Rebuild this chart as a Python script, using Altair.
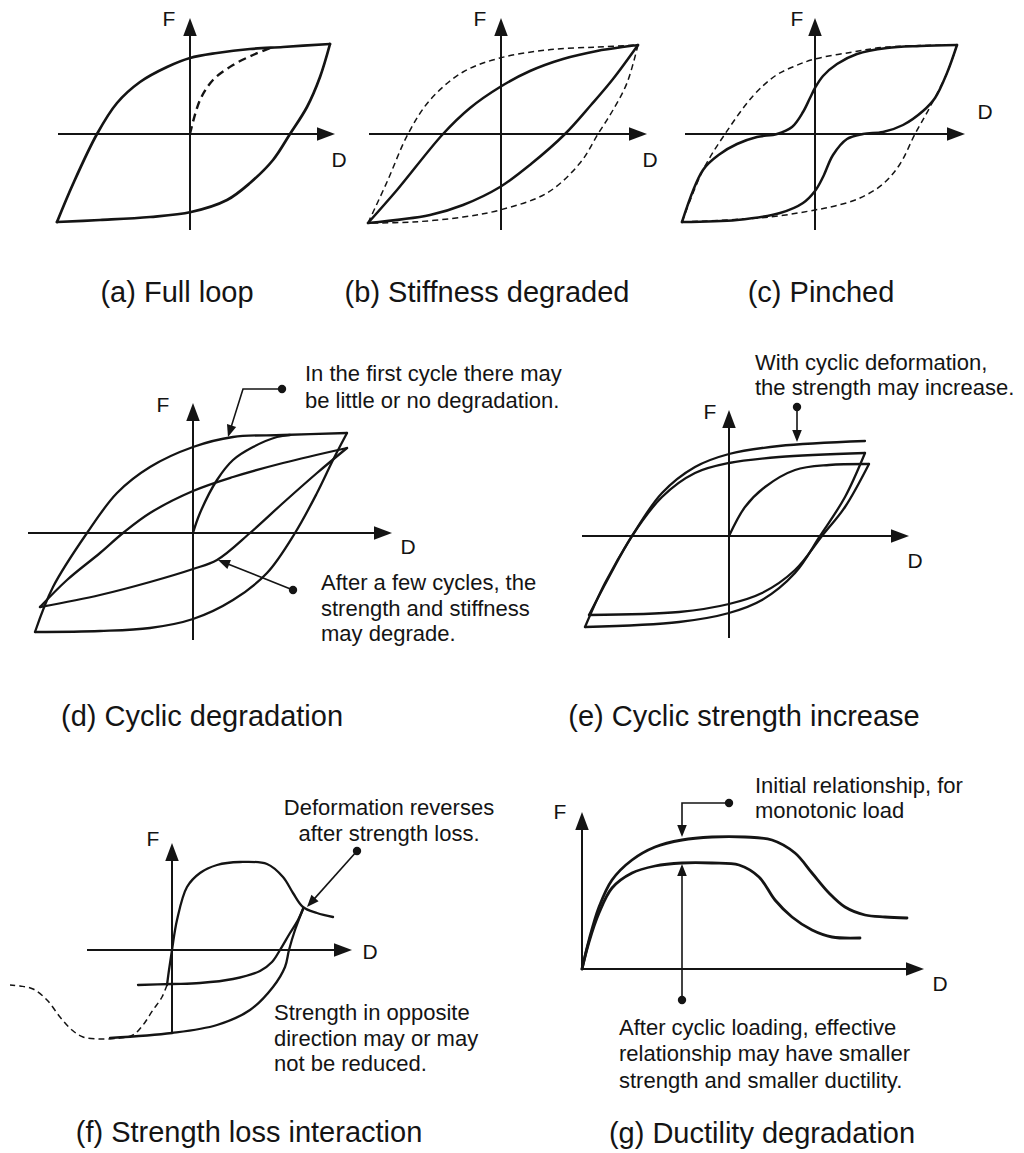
import math

import altair as alt
import pandas as pd

FONT = "Liberation Sans"
INK = "#141414"
AXIS_HEAD = "M0,-1L0.75,1L-0.75,1Z"
NOTE_HEAD = "M0,-1L0.8,1L-0.8,1Z"

# ---------------- (a) Full loop ----------------
A_UP_D = [-133, -117, -93, -73, -50, -23, 0, 27, 60, 93, 140]
A_UP_F = [-88, -50, 0, 31, 52, 67, 76, 81, 85, 87, 90]
A_DN_D = [140, 130, 117, 100, 83, 60, 37, 1, -40, -90, -133]
A_DN_F = [90, 57, 27, 0, -26, -49, -66, -78, -83, -86, -88]
A_INIT_D = [0, 10, 23, 43, 63, 80]
A_INIT_F = [0, 34, 54, 69, 79, 86]

# ---------------- (b) Stiffness degraded ----------------
B_UP_D = [-133, -104, -58, -31, -1, 29, 62, 96, 137]
B_UP_F = [-89, -56, 0, 26, 47, 63, 75, 83, 89]
B_DN_D = [137, 112, 90, 64, 30, -1, -38, -71, -133]
B_DN_F = [89, 55, 29, 0, -30, -53, -71, -81, -89]
B_OUT_UP_D = [-133, -114, -93, -71, -38, -1, 46, 96, 137]
B_OUT_UP_F = [-89, -48, 0, 34, 62, 76, 84, 87, 89]
B_OUT_DN_D = [137, 126, 112, 97, 79, 46, -1, -38, -88, -133]
B_OUT_DN_F = [89, 51, 24, 0, -29, -59, -76, -83, -88, -89]

# ---------------- (c) Pinched ----------------
C_OUT_UP_D = [-133, -112, -90, -62, -40, -20, 0, 38, 72, 142]
C_OUT_UP_F = [-88, -36, 0, 38, 58, 68, 75, 82, 87, 89]
C_OUT_DN_D = [142, 132, 115, 100, 85, 68, 45, 20, 0, -45, -133]
C_OUT_DN_F = [89, 61, 27, 0, -30, -50, -64, -72, -76, -83, -88]
C_UP_D = [-133, -112, -95, -78, -58, -38, -23, -12, -5, 0, 8, 22, 42, 72, 105, 142]
C_UP_F = [-88, -36, -20, -10, -3, 0, 7, 22, 36, 46, 58, 70, 80, 86, 88, 89]
C_DN_D = [142, 132, 120, 108, 88, 68, 48, 32, 18, 8, 0, -12, -35, -78, -133]
C_DN_F = [89, 61, 36, 23, 9, 2, 0, -5, -21, -43, -57, -69, -79, -86, -88]

# ---------------- (d) Cyclic degradation ----------------
D_OUT_UP_D = [-158, -140, -106, -76, -43, 0, 40, 90, 154]
D_OUT_UP_F = [-99, -54, 0, 40, 66, 86, 96, 98, 100]
D_OUT_DN_D = [154, 140, 124, 102, 74, 40, 0, -43, -93, -158]
D_OUT_DN_F = [100, 73, 40, 0, -40, -67, -86, -95, -98, -99]
D_INIT_D = [0, 7, 24, 40, 60, 84, 97]
D_INIT_F = [0, 20, 53, 73, 86, 96, 98]
D_IN_UP_D = [-153, -126, -93, -70, -43, 0, 40, 90, 154]
D_IN_UP_F = [-74, -47, -20, 0, 20, 42, 56, 70, 85]
D_IN_DN_D = [154, 124, 90, 57, 24, 0, -43, -93, -153]
D_IN_DN_F = [85, 60, 30, 0, -27, -36, -49, -62, -74]

# ---------------- (e) Cyclic strength increase ----------------
E_INIT_D = [0, 16, 36, 66, 100, 140]
E_INIT_F = [0, 29, 49, 66, 71, 72]
E_DN1_D = [140, 116, 93, 66, 33, 0, -50, -140]
E_DN1_F = [72, 29, 0, -34, -57, -68, -76, -79]
E_UP2_D = [-140, -120, -97, -67, -34, 0, 50, 136]
E_UP2_F = [-79, -41, 0, 39, 63, 73, 79, 83]
E_DN2_D = [136, 116, 91, 66, 33, 0, -50, -144]
E_DN2_F = [83, 39, 0, -37, -64, -77, -86, -91]
E_UP3_D = [-144, -124, -97, -67, -34, 0, 50, 136]
E_UP3_F = [-91, -47, 0, 43, 69, 82, 90, 95]

# ---------------- (f) Strength loss interaction ----------------
F_INIT_D = [-5, -3, 0, 5, 15, 28, 45, 68, 95, 111, 121, 131, 145, 161]
F_INIT_F = [-35, -20, 0, 30, 63, 77, 85, 88, 86, 73, 57, 43, 37, 33]
F_NEG_D = [-5, -10, -19, -29, -39, -52, -72, -89, -100, -112, -125, -139, -152, -162]
F_NEG_F = [-35, -47, -60, -75, -85, -88, -89, -87, -80, -67, -50, -39, -36, -35]
F_UNLOAD_D = [131, 126, 118, 108, 100, 88, 61, 28, 0, -34]
F_UNLOAD_F = [41, 30, 17, 0, -12, -21, -29, -33, -34, -35]
F_RELOAD_D = [-62, 0, 45, 78, 101, 113, 117, 123, 131]
F_RELOAD_F = [-88, -83, -75, -60, -37, -17, 0, 20, 41]

# ---------------- (g) Ductility degradation ----------------
G_MONO_D = [0, 7, 17, 30, 50, 73, 100, 130, 163, 190, 213, 230, 247, 263, 283, 303, 325]
G_MONO_F = [0, 29, 62, 89, 109, 122, 129, 132, 132, 129, 116, 96, 76, 62, 54, 52, 51]
G_CYC_D = [0, 7, 17, 30, 50, 73, 100, 130, 157, 177, 193, 210, 230, 250, 278]
G_CYC_F = [0, 27, 56, 81, 96, 103, 106, 106, 104, 92, 69, 52, 39, 32, 31]

TITLES = ["(a) Full loop", "(b) Stiffness degraded", "(c) Pinched",
          "(d) Cyclic degradation", "(e) Cyclic strength increase",
          "(f) Strength loss interaction", "(g) Ductility degradation"]

NOTE_D = ["In the first cycle there may", "be little or no degradation."]
NOTE_D2 = ["After a few cycles, the", "strength and stiffness", "may degrade."]
NOTE_E = ["With cyclic deformation,", "the strength may increase."]
NOTE_F = ["Deformation reverses", "after strength loss."]
NOTE_F2 = ["Strength in opposite", "direction may or may", "not be reduced."]
NOTE_G = ["Initial relationship, for", "monotonic load"]
NOTE_G2 = ["After cyclic loading, effective", "relationship may have smaller",
           "strength and smaller ductility."]


def curve_frame(curves):
    rows = []
    for name, ds, fs in curves:
        for i, (d, f) in enumerate(zip(ds, fs)):
            rows.append({"curve": name, "i": i, "D": d, "F": f})
    return pd.DataFrame(rows)


def arrow_frames(paths, head_len):
    """Polylines ending in an arrowhead: trimmed line points + head placement."""
    lines, heads = [], []
    for k, pts in enumerate(paths):
        (d0, f0), (d1, f1) = pts[-2], pts[-1]
        dd, ff = d1 - d0, f1 - f0
        n = math.hypot(dd, ff)
        ud, uf = dd / n, ff / n
        trimmed = list(pts[:-1]) + [(d1 - ud * head_len * 0.6, f1 - uf * head_len * 0.6)]
        for i, (d, f) in enumerate(trimmed):
            lines.append({"path": k, "i": i, "D": d, "F": f})
        heads.append({"D": d1 - ud * head_len / 2, "F": f1 - uf * head_len / 2,
                      "ang": math.degrees(math.atan2(ud, uf)) % 360})
    return pd.DataFrame(lines), pd.DataFrame(heads)


def text_frame(items):
    return pd.DataFrame([{"D": d, "F": f, "txt": t} for d, f, t in items])


def panel(box, solid, dashed, axes, labels, title, leaders=(), notes=(),
          center_notes=(), solid_w=2.5, dash_w=1.5, dash=(6, 4)):
    W, H, ox, oy = box
    sx = alt.Scale(domain=[-ox, W - ox], nice=False, zero=False)
    sy = alt.Scale(domain=[oy - H, oy], nice=False, zero=False)
    x = alt.X("D:Q", scale=sx, axis=None)
    y = alt.Y("F:Q", scale=sy, axis=None)
    layers = []

    ax_lines, ax_heads = arrow_frames(axes, 18)
    layers.append(alt.Chart(ax_lines).mark_line(color=INK, strokeWidth=2).encode(
        x=x, y=y, detail="path:N", order="i:Q"))
    layers.append(alt.Chart(ax_heads).mark_point(
        shape=AXIS_HEAD, size=324, filled=True, color=INK, opacity=1, strokeWidth=0
    ).encode(x=x, y=y, angle=alt.Angle("ang:Q", scale=None)))

    if dashed:
        layers.append(alt.Chart(curve_frame(dashed)).mark_line(
            color=INK, strokeWidth=dash_w, strokeDash=list(dash),
            interpolate="catmull-rom", strokeJoin="round"
        ).encode(x=x, y=y, detail="curve:N", order="i:Q"))
    layers.append(alt.Chart(curve_frame(solid)).mark_line(
        color=INK, strokeWidth=solid_w, interpolate="catmull-rom",
        strokeJoin="round", strokeCap="round"
    ).encode(x=x, y=y, detail="curve:N", order="i:Q"))

    if leaders:
        ld_lines, ld_heads = arrow_frames(leaders, 12)
        dots = pd.DataFrame([{"D": p[0][0], "F": p[0][1]} for p in leaders])
        layers.append(alt.Chart(ld_lines).mark_line(color=INK, strokeWidth=1.6).encode(
            x=x, y=y, detail="path:N", order="i:Q"))
        layers.append(alt.Chart(ld_heads).mark_point(
            shape=NOTE_HEAD, size=144, filled=True, color=INK, opacity=1, strokeWidth=0
        ).encode(x=x, y=y, angle=alt.Angle("ang:Q", scale=None)))
        layers.append(alt.Chart(dots).mark_circle(size=70, color=INK, opacity=1).encode(x=x, y=y))

    if notes:
        layers.append(alt.Chart(text_frame(notes)).mark_text(
            font=FONT, fontSize=22, align="left", baseline="alphabetic", color=INK
        ).encode(x=x, y=y, text="txt:N"))
    if center_notes:
        layers.append(alt.Chart(text_frame(center_notes)).mark_text(
            font=FONT, fontSize=22, align="center", baseline="alphabetic", color=INK
        ).encode(x=x, y=y, text="txt:N"))

    layers.append(alt.Chart(text_frame(labels)).mark_text(
        font=FONT, fontSize=21, align="center", baseline="middle", color=INK
    ).encode(x=x, y=y, text="txt:N"))
    layers.append(alt.Chart(text_frame([title])).mark_text(
        font=FONT, fontSize=29, align="center", baseline="alphabetic", color=INK
    ).encode(x=x, y=y, text="txt:N"))

    return alt.layer(*layers).properties(width=W, height=H)


def lines_at(d, fs, texts):
    return [(d, f, t) for f, t in zip(fs, texts)]


pa = panel(
    (341, 320, 190, 134),
    solid=[("up", A_UP_D, A_UP_F), ("down", A_DN_D, A_DN_F)],
    dashed=[("init", A_INIT_D, A_INIT_F)],
    axes=[[(0, -96), (0, 116)], [(-132, 0), (145, 0)]],
    labels=[(-21, 114, "F"), (149, -27, "D")],
    title=(-13, -168, TITLES[0]),
    solid_w=2.7, dash_w=2.4, dash=(8, 5),
)

pb = panel(
    (341, 320, 160, 134),
    solid=[("up", B_UP_D, B_UP_F), ("down", B_DN_D, B_DN_F)],
    dashed=[("oup", B_OUT_UP_D, B_OUT_UP_F), ("odown", B_OUT_DN_D, B_OUT_DN_F)],
    axes=[[(0, -96), (0, 116)], [(-132, 0), (146, 0)]],
    labels=[(-21, 114, "F"), (149, -27, "D")],
    title=(-14, -168, TITLES[1]),
)

pc = panel(
    (342, 320, 133, 134),
    solid=[("up", C_UP_D, C_UP_F), ("down", C_DN_D, C_DN_F)],
    dashed=[("oup", C_OUT_UP_D, C_OUT_UP_F), ("odown", C_OUT_DN_D, C_OUT_DN_F)],
    axes=[[(0, -96), (0, 116)], [(-130, 0), (150, 0)]],
    labels=[(-18, 114, "F"), (170, 21, "D")],
    title=(6, -168, TITLES[2]),
)

pd_ = panel(
    (512, 420, 193, 213),
    solid=[("oup", D_OUT_UP_D, D_OUT_UP_F), ("odown", D_OUT_DN_D, D_OUT_DN_F),
           ("init", D_INIT_D, D_INIT_F), ("iup", D_IN_UP_D, D_IN_UP_F),
           ("idown", D_IN_DN_D, D_IN_DN_F)],
    dashed=[],
    axes=[[(0, -107), (0, 130)], [(-165, 0), (199, 0)]],
    labels=[(-30, 127, "F"), (215, -15, "D")],
    title=(9, -193, TITLES[3]),
    leaders=[[(89, 144), (50, 144), (35, 96)], [(100, -57), (25, -27)]],
    notes=lines_at(112, [152, 125], NOTE_D) + lines_at(128, [-57, -83, -108], NOTE_D2),
    solid_w=2.3,
)

pe = panel(
    (512, 420, 217, 216),
    solid=[("init", E_INIT_D, E_INIT_F), ("d1", E_DN1_D, E_DN1_F),
           ("u2", E_UP2_D, E_UP2_F), ("d2", E_DN2_D, E_DN2_F),
           ("u3", E_UP3_D, E_UP3_F)],
    dashed=[],
    axes=[[(0, -102), (0, 126)], [(-147, 0), (180, 0)]],
    labels=[(-19, 123, "F"), (186, -26, "D")],
    title=(15, -190, TITLES[4]),
    leaders=[[(68, 129), (68, 94)]],
    notes=lines_at(26, [166, 141], NOTE_E),
    solid_w=2.3,
)

pf = panel(
    (512, 413, 172, 210),
    solid=[("init", F_INIT_D, F_INIT_F), ("unload", F_UNLOAD_D, F_UNLOAD_F),
           ("reload", F_RELOAD_D, F_RELOAD_F)],
    dashed=[("neg", F_NEG_D, F_NEG_F)],
    axes=[[(0, -83), (0, 107)], [(-85, 0), (180, 0)]],
    labels=[(-19, 110, "F"), (198, -3, "D")],
    title=(77, -192, TITLES[5]),
    leaders=[[(185, 99), (135, 43)]],
    notes=lines_at(102, [-70, -96, -121], NOTE_F2),
    center_notes=lines_at(217, [135, 109], NOTE_F),
    solid_w=2.3,
)

pg = panel(
    (512, 413, 70, 229),
    solid=[("mono", G_MONO_D, G_MONO_F), ("cyc", G_CYC_D, G_CYC_F)],
    dashed=[],
    axes=[[(0, -1), (0, 157)], [(0, 0), (342, 0)]],
    labels=[(-22, 156, "F"), (358, -16, "D")],
    title=(180, -174, TITLES[6]),
    leaders=[[(147, 166), (100, 166), (100, 132)], [(100, -31), (100, 105)]],
    notes=lines_at(173, [176, 151], NOTE_G) + lines_at(37, [-66, -92, -119], NOTE_G2),
    solid_w=2.8,
)

# Rows keep their panels flush side by side; the rows themselves stack normally.
row1 = alt.hconcat(pa, pb, pc, spacing=0, bounds="flush")
row2 = alt.hconcat(pd_, pe, spacing=0, bounds="flush")
row3 = alt.hconcat(pf, pg, spacing=0, bounds="flush")

chart = (
    alt.vconcat(row1, row2, row3, spacing=0)
    .properties(padding=0, background="white")
    .configure_view(stroke=None)
)

chart.save("out.html", embed_options={"renderer": "svg", "actions": False})
